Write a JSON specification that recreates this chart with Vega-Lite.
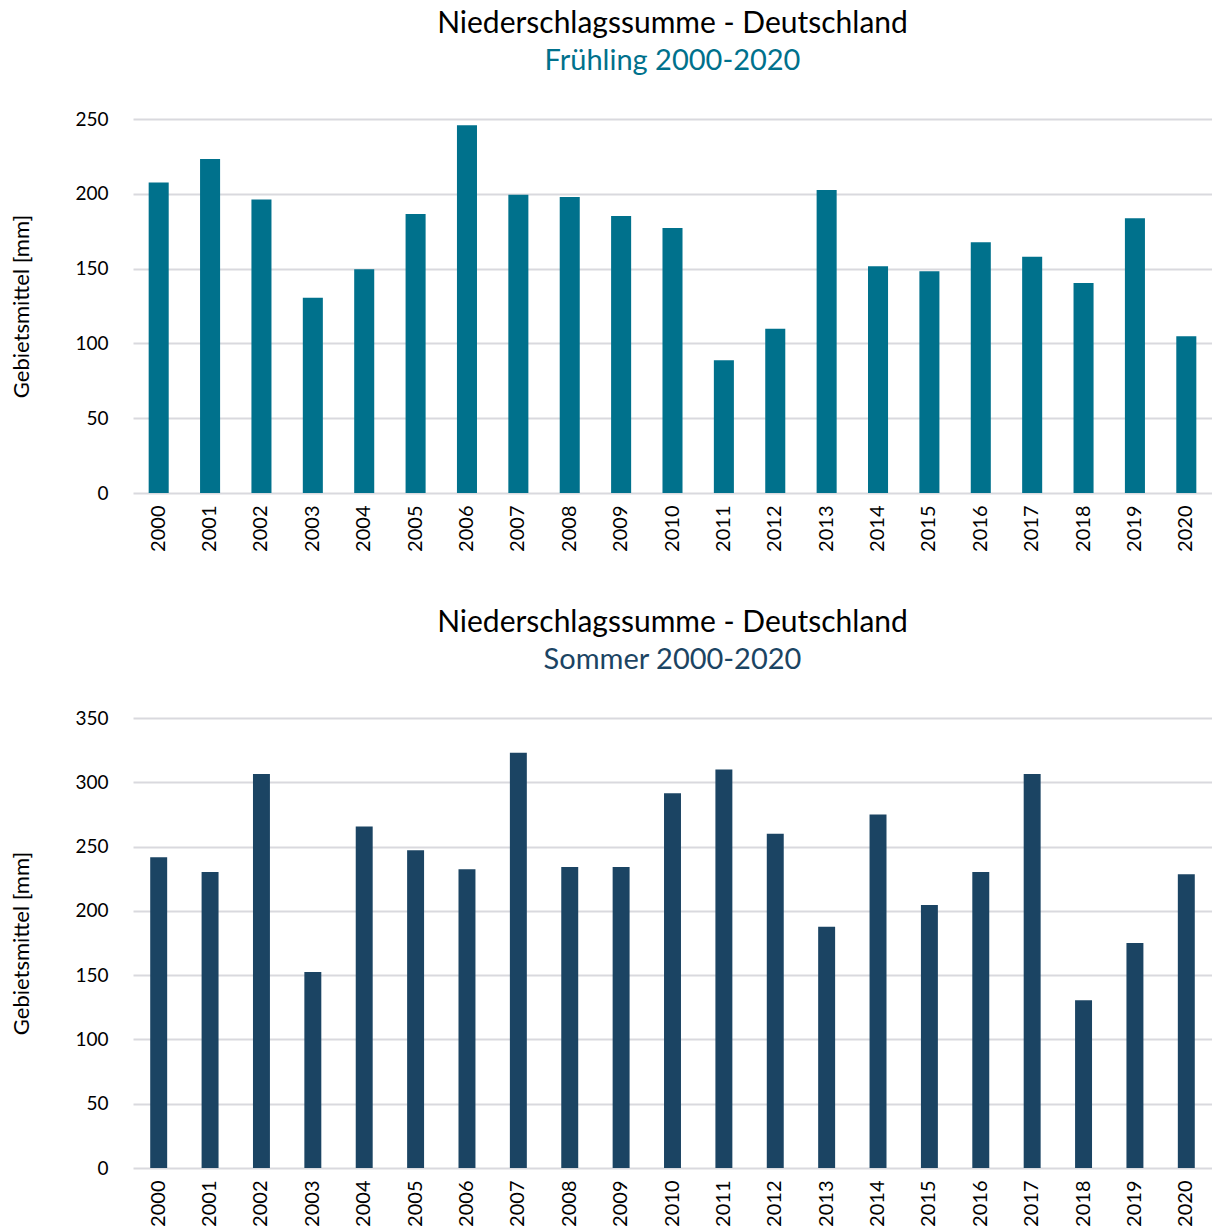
{
  "$schema": "https://vega.github.io/schema/vega-lite/v6.json",
  "padding": {"left": 10, "top": 9, "right": 0, "bottom": 0},
  "autosize": {"type": "pad"},
  "background": "white",
  "spacing": 56,
  "config": {
    "font": "Lato",
    "view": {"stroke": null},
    "axis": {
      "domain": false,
      "ticks": false,
      "labelColor": "#000000",
      "titleColor": "#000000",
      "labelFont": "Lato",
      "titleFont": "Lato",
      "titleFontWeight": "normal"
    },
    "axisX": {"grid": false, "labelAngle": -90, "labelFontSize": 20, "labelPadding": 12, "title": null},
    "axisY": {"gridColor": "#D9D9DE", "gridWidth": 2, "labelFontSize": 19, "labelPadding": 25, "titleFontSize": 22, "titlePadding": 41},
    "title": {
      "font": "Lato",
      "fontSize": 30,
      "fontWeight": "normal",
      "color": "#000000",
      "subtitleFont": "Lato",
      "subtitleFontSize": 29,
      "subtitlePadding": 8,
      "anchor": "middle",
      "offset": 34
    }
  },
  "datasets": {
    "fruehling": [
      {"Jahr": "2000", "Wert": 207.5},
      {"Jahr": "2001", "Wert": 223.2},
      {"Jahr": "2002", "Wert": 196.2},
      {"Jahr": "2003", "Wert": 130.5},
      {"Jahr": "2004", "Wert": 149.6},
      {"Jahr": "2005", "Wert": 186.5},
      {"Jahr": "2006", "Wert": 245.8},
      {"Jahr": "2007", "Wert": 199.4},
      {"Jahr": "2008", "Wert": 197.9},
      {"Jahr": "2009", "Wert": 185.1},
      {"Jahr": "2010", "Wert": 177.1},
      {"Jahr": "2011", "Wert": 88.8},
      {"Jahr": "2012", "Wert": 109.8},
      {"Jahr": "2013", "Wert": 202.5},
      {"Jahr": "2014", "Wert": 151.5},
      {"Jahr": "2015", "Wert": 148.2},
      {"Jahr": "2016", "Wert": 167.6},
      {"Jahr": "2017", "Wert": 158.0},
      {"Jahr": "2018", "Wert": 140.4},
      {"Jahr": "2019", "Wert": 183.6},
      {"Jahr": "2020", "Wert": 104.8}
    ],
    "sommer": [
      {"Jahr": "2000", "Wert": 241.6},
      {"Jahr": "2001", "Wert": 230.2},
      {"Jahr": "2002", "Wert": 306.4},
      {"Jahr": "2003", "Wert": 152.5},
      {"Jahr": "2004", "Wert": 265.7},
      {"Jahr": "2005", "Wert": 247.1},
      {"Jahr": "2006", "Wert": 232.3},
      {"Jahr": "2007", "Wert": 323.0},
      {"Jahr": "2008", "Wert": 234.1},
      {"Jahr": "2009", "Wert": 234.1},
      {"Jahr": "2010", "Wert": 291.5},
      {"Jahr": "2011", "Wert": 310.0},
      {"Jahr": "2012", "Wert": 259.9},
      {"Jahr": "2013", "Wert": 187.6},
      {"Jahr": "2014", "Wert": 275.0},
      {"Jahr": "2015", "Wert": 204.6},
      {"Jahr": "2016", "Wert": 230.2},
      {"Jahr": "2017", "Wert": 306.4},
      {"Jahr": "2018", "Wert": 130.4},
      {"Jahr": "2019", "Wert": 175.0},
      {"Jahr": "2020", "Wert": 228.4}
    ]
  },
  "vconcat": [
    {
      "data": {"name": "fruehling"},
      "title": {"text": "Niederschlagssumme - Deutschland", "subtitle": "Frühling 2000-2020", "subtitleColor": "#00718C"},
      "width": 1079,
      "height": 374,
      "mark": {"type": "bar", "color": "#00718C"},
      "encoding": {
        "x": {"field": "Jahr", "type": "ordinal", "scale": {"paddingInner": 0.61, "paddingOuter": 0.305}},
        "y": {
          "field": "Wert",
          "type": "quantitative",
          "scale": {"domain": [0, 250], "nice": false},
          "axis": {"values": [0, 50, 100, 150, 200, 250], "title": "Gebietsmittel [mm]"}
        }
      }
    },
    {
      "data": {"name": "sommer"},
      "title": {"text": "Niederschlagssumme - Deutschland", "subtitle": "Sommer 2000-2020", "subtitleColor": "#1B4463"},
      "width": 1079,
      "height": 450,
      "mark": {"type": "bar", "color": "#1B4463"},
      "encoding": {
        "x": {"field": "Jahr", "type": "ordinal", "scale": {"paddingInner": 0.67, "paddingOuter": 0.335}},
        "y": {
          "field": "Wert",
          "type": "quantitative",
          "scale": {"domain": [0, 350], "nice": false},
          "axis": {"values": [0, 50, 100, 150, 200, 250, 300, 350], "title": "Gebietsmittel [mm]"}
        }
      }
    }
  ]
}
